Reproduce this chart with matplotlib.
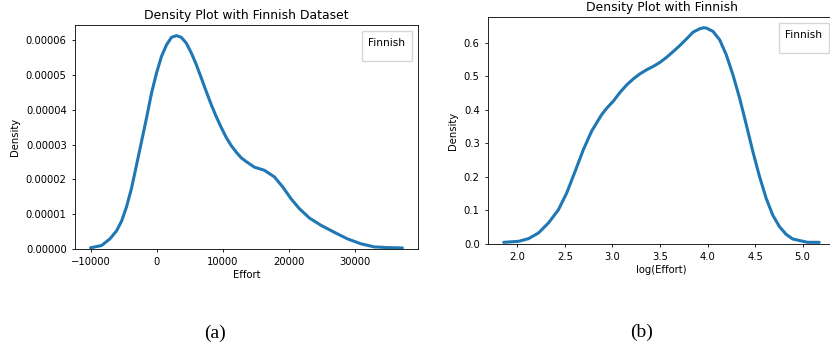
import matplotlib
matplotlib.use("Agg")
import matplotlib.pyplot as plt
from matplotlib.lines import Line2D

# KDE curve of raw effort (panel a)
effort = [-10000, -8340, -7086, -6080, -5320, -4570, -3820, -3060, -2310,
          -1550, -800, -45, 710, 1460, 2220, 2970, 3720, 4480, 5230, 5990,
          6740, 7490, 8250, 9000, 9750, 10510, 11260, 12020, 12770, 13520,
          14770, 16280, 17790, 19050, 20310, 21560, 23070, 24830, 26840,
          28840, 30860, 32870, 34870, 37130]
effort_density = [0.35e-6, 1.0e-6, 2.9e-6, 5.2e-6, 8.0e-6, 12.1e-6, 17.4e-6,
                  24.1e-6, 30.8e-6, 37.6e-6, 44.7e-6, 50.5e-6, 55.3e-6,
                  58.6e-6, 60.8e-6, 61.3e-6, 60.8e-6, 59.1e-6, 56.3e-6,
                  52.9e-6, 49.1e-6, 45.2e-6, 41.4e-6, 38.0e-6, 34.9e-6,
                  32.0e-6, 29.7e-6, 27.8e-6, 26.2e-6, 25.1e-6, 23.5e-6,
                  22.6e-6, 20.7e-6, 17.8e-6, 14.4e-6, 11.6e-6, 8.9e-6,
                  6.8e-6, 4.8e-6, 2.9e-6, 1.5e-6, 0.6e-6, 0.4e-6, 0.3e-6]

# KDE curve of log effort (panel b)
log_effort = [1.857, 2.014, 2.118, 2.223, 2.328, 2.432, 2.519, 2.607, 2.694,
              2.781, 2.886, 2.942, 3.011, 3.081, 3.151, 3.221, 3.291, 3.361,
              3.430, 3.500, 3.570, 3.639, 3.709, 3.780, 3.849, 3.919, 3.960,
              3.989, 4.058, 4.128, 4.198, 4.267, 4.338, 4.408, 4.477, 4.547,
              4.617, 4.686, 4.756, 4.826, 4.895, 5.052, 5.175]
log_density = [0.005, 0.008, 0.016, 0.033, 0.063, 0.102, 0.152, 0.216, 0.281,
               0.336, 0.385, 0.405, 0.426, 0.452, 0.474, 0.492, 0.507, 0.519,
               0.529, 0.541, 0.556, 0.573, 0.591, 0.611, 0.631, 0.641, 0.644,
               0.643, 0.633, 0.608, 0.563, 0.504, 0.434, 0.355, 0.275, 0.201,
               0.136, 0.086, 0.052, 0.029, 0.015, 0.005, 0.005]

W, H = 830, 347
fs = 7.2

plt.rcParams.update({
    "font.family": "DejaVu Sans",
    "font.size": fs,
    "axes.linewidth": 0.6,
    "xtick.major.size": 2.5,
    "ytick.major.size": 2.5,
    "xtick.major.width": 0.6,
    "ytick.major.width": 0.6,
    "axes.titlesize": 8.9,
    "axes.labelsize": fs,
})

fig = plt.figure(figsize=(W / 100, H / 100), dpi=100)


def add_ax(x0, y0, x1, y1):
    return fig.add_axes([x0 / W, 1 - y1 / H, (x1 - x0) / W, (y1 - y0) / H])


def kde_panel(ax, x, y, title, xlabel):
    line, = ax.plot(x, y, color="#1f77b4", lw=2.2, solid_capstyle="round",
                    solid_joinstyle="round")
    line.sticky_edges.y.append(0)
    ax.autoscale_view()
    ax.set_title(title, pad=4)
    ax.set_xlabel(xlabel, labelpad=2)
    ax.set_ylabel("Density", labelpad=4)
    # legend with only a title, like an unlabeled kdeplot legend
    ax.legend(handles=[Line2D([], [], alpha=0)], labels=[""], title="Finnish",
              loc="upper right", fontsize=3.5, title_fontsize=7.6,
              borderpad=1.3, borderaxespad=1.3, framealpha=0.8)


ax1 = add_ax(75, 25, 418, 249)
kde_panel(ax1, effort, effort_density, "Density Plot with Finnish Dataset", "Effort")
ax1.set_yticks([0, 1e-5, 2e-5, 3e-5, 4e-5, 5e-5, 6e-5])
ax1.set_yticklabels(["0.00000", "0.00001", "0.00002", "0.00003",
                     "0.00004", "0.00005", "0.00006"])

ax2 = add_ax(488, 17, 835, 244)
kde_panel(ax2, log_effort, log_density, "Density Plot with Finnish", "log(Effort)")

fig.text(215 / W, 1 - 333 / H, "(a)", family="Liberation Serif", fontsize=14,
         ha="center", va="center")
fig.text(642 / W, 1 - 332 / H, "(b)", family="Liberation Serif", fontsize=14,
         ha="center", va="center")

fig.savefig("out.png", dpi=100)
